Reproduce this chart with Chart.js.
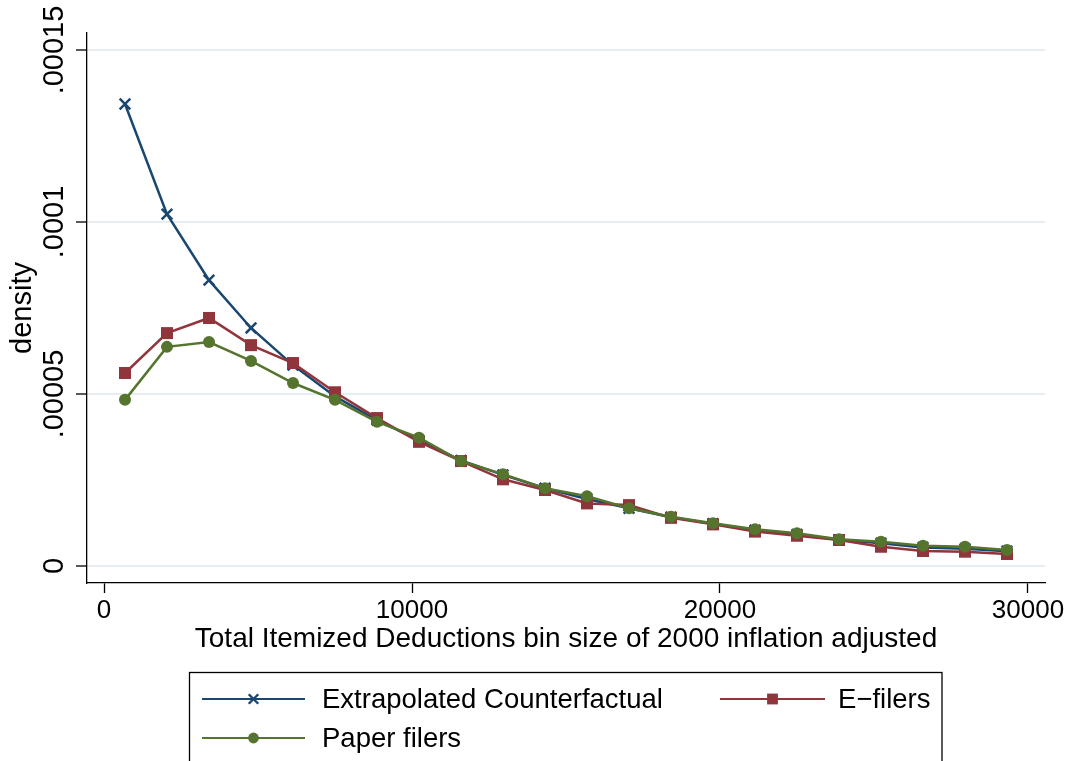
<!DOCTYPE html>
<html><head><meta charset="utf-8">
<script src="https://cdn.jsdelivr.net/npm/chart.js@4/dist/chart.umd.min.js"></script>
<style>html,body{margin:0;padding:0;background:#fff;}#wrap{width:1073px;height:761px;position:relative;}</style>
</head><body><div id="wrap"><canvas id="c" width="1073" height="761"></canvas></div>
<script>
const binMidpoints = [682, 2045, 3409, 4773, 6136, 7500, 8864, 10227, 11591, 12955, 14318, 15682, 17045, 18409, 19773, 21136, 22500, 23864, 25227, 26591, 27955, 29318];
const counterfactual = [1.343e-4, 1.023e-4, 8.31e-5, 6.92e-5, 5.84e-5, 4.93e-5, 4.24e-5, 3.65e-5, 3.07e-5, 2.65e-5, 2.26e-5, 1.95e-5, 1.68e-5, 1.42e-5, 1.23e-5, 1.04e-5, 9.2e-6, 7.6e-6, 6.6e-6, 5.4e-6, 5.0e-6, 4.3e-6];
const eFilers = [5.61e-5, 6.77e-5, 7.21e-5, 6.42e-5, 5.9e-5, 5.05e-5, 4.3e-5, 3.61e-5, 3.05e-5, 2.52e-5, 2.21e-5, 1.82e-5, 1.77e-5, 1.4e-5, 1.21e-5, 1.0e-5, 8.8e-6, 7.56e-6, 5.6e-6, 4.36e-6, 4.16e-6, 3.49e-6];
const paperFilers = [4.83e-5, 6.37e-5, 6.51e-5, 5.96e-5, 5.32e-5, 4.83e-5, 4.19e-5, 3.73e-5, 3.05e-5, 2.67e-5, 2.26e-5, 2.03e-5, 1.68e-5, 1.43e-5, 1.24e-5, 1.07e-5, 9.5e-6, 7.75e-6, 7.07e-6, 5.9e-6, 5.6e-6, 4.65e-6];
const seriesNames = ['Extrapolated Counterfactual', 'E\u2212filers', 'Paper filers'];
const xTickValues = [0, 10000, 20000, 30000];
const yTickValues = [0, 0.00005, 0.0001, 0.00015];
const yTickLabels = ['0', '.00005', '.0001', '.00015'];
const xTitle = 'Total Itemized Deductions bin size of 2000 inflation adjusted';
const yTitle = 'density';

const FONT = '"Liberation Sans", Arial, Helvetica, sans-serif';
const NAVY = '#1a476f', MAROON = '#90353b', GREEN = '#55752f';

function pts(ys) { return binMidpoints.map((x, i) => ({x: x, y: ys[i]})); }

function drawMarker(ctx, style, r, x, y, color, bw) {
  ctx.save();
  ctx.fillStyle = color; ctx.strokeStyle = color; ctx.lineWidth = bw || 2;
  ctx.beginPath();
  if (style === 'crossRot') {
    const d = r * Math.SQRT1_2;
    ctx.moveTo(x - d, y - d); ctx.lineTo(x + d, y + d);
    ctx.moveTo(x - d, y + d); ctx.lineTo(x + d, y - d);
    ctx.stroke();
  } else if (style === 'rect') {
    const s = r * Math.SQRT1_2;
    ctx.rect(x - s, y - s, 2 * s, 2 * s); ctx.fill();
  } else {
    ctx.arc(x, y, r, 0, Math.PI * 2); ctx.fill();
  }
  ctx.restore();
}

const decor = {
  id: 'decor',
  afterDraw(chart) {
    const ctx = chart.ctx;
    const ys = chart.scales.y;
    ctx.save();
    ctx.fillStyle = '#000';
    ctx.font = '29px ' + FONT;
    ctx.textAlign = 'center';
    ctx.textBaseline = 'alphabetic';
    const bx = ys.right - 11 - 13;
    yTickValues.forEach((v, i) => {
      const py = ys.getPixelForValue(v);
      ctx.save();
      ctx.translate(bx, py);
      ctx.rotate(-Math.PI / 2);
      ctx.fillText(yTickLabels[i], 0, 0);
      ctx.restore();
    });
    ctx.strokeStyle = '#000';
    ctx.lineWidth = 1.3;
    ctx.strokeRect(189.5, 672.5, 752.5, 120);
    const slots = [
      {ds: 0, lx: 202, rx: 305, tx: 322, y: 699},
      {ds: 1, lx: 720, rx: 825, tx: 838, y: 699},
      {ds: 2, lx: 202, rx: 305, tx: 322, y: 738}
    ];
    ctx.font = '27.5px ' + FONT;
    ctx.textAlign = 'left';
    ctx.textBaseline = 'middle';
    slots.forEach(s => {
      const d = chart.data.datasets[s.ds];
      ctx.strokeStyle = d.borderColor;
      ctx.lineWidth = 2.2;
      ctx.beginPath(); ctx.moveTo(s.lx, s.y); ctx.lineTo(s.rx, s.y); ctx.stroke();
      drawMarker(ctx, d.pointStyle, d.pointRadius * 0.9, (s.lx + s.rx) / 2, s.y, d.borderColor, 2.4);
      ctx.fillStyle = '#000';
      ctx.fillText(d.label, s.tx, s.y + 1);
    });
    ctx.restore();
  }
};

new Chart(document.getElementById('c'), {
  type: 'line',
  data: {
    datasets: [
      {label: seriesNames[0], data: pts(counterfactual), borderColor: NAVY, backgroundColor: NAVY,
       pointStyle: 'crossRot', pointRadius: 7.5, pointBorderWidth: 2.5, pointBackgroundColor: NAVY, pointBorderColor: NAVY, borderWidth: 2.5, order: 3},
      {label: seriesNames[1], data: pts(eFilers), borderColor: MAROON, backgroundColor: MAROON,
       pointStyle: 'rect', pointRadius: 8.5, pointBorderWidth: 0, pointBackgroundColor: MAROON, borderWidth: 2.5, order: 2},
      {label: seriesNames[2], data: pts(paperFilers), borderColor: GREEN, backgroundColor: GREEN,
       pointStyle: 'circle', pointRadius: 6, pointBorderWidth: 0, pointBackgroundColor: GREEN, borderWidth: 2.5, order: 1}
    ]
  },
  options: {
    responsive: false,
    devicePixelRatio: 1,
    animation: false,
    layout: {padding: {top: 33, right: 28, bottom: 108, left: 0}},
    plugins: {legend: {display: false}, tooltip: {enabled: false}},
    elements: {line: {tension: 0, fill: false}},
    scales: {
      x: {
        type: 'linear', position: 'bottom', min: -552, max: 30552,
        afterBuildTicks: s => { s.ticks = xTickValues.map(v => ({value: v})); },
        afterFit: s => { s.height = 70; },
        ticks: {color: '#000', font: {family: FONT, size: 26}, padding: 2, maxRotation: 0, autoSkip: false, callback: v => String(v)},
        grid: {drawOnChartArea: false, drawTicks: true, tickLength: 10, tickColor: '#000', tickWidth: 1.3},
        border: {display: true, color: '#000', width: 1.3},
        title: {display: true, text: xTitle, color: '#000', font: {family: FONT, size: 28, lineHeight: 1}, padding: {top: 0, bottom: 0}}
      },
      y: {
        type: 'linear', position: 'left', min: -4.94e-6, max: 1.5494e-4,
        afterBuildTicks: s => { s.ticks = yTickValues.map(v => ({value: v})); },
        afterFit: s => { s.width = 87; },
        ticks: {display: false},
        grid: {drawOnChartArea: true, color: '#e6eef1', lineWidth: 2, drawTicks: true, tickLength: 11, tickColor: '#000', tickWidth: 1.3},
        border: {display: true, color: '#000', width: 1.3},
        title: {display: true, text: yTitle, color: '#000', font: {family: FONT, size: 29, lineHeight: 1}, padding: {top: 8, bottom: 0}}
      }
    }
  },
  plugins: [decor]
});
</script></body></html>
